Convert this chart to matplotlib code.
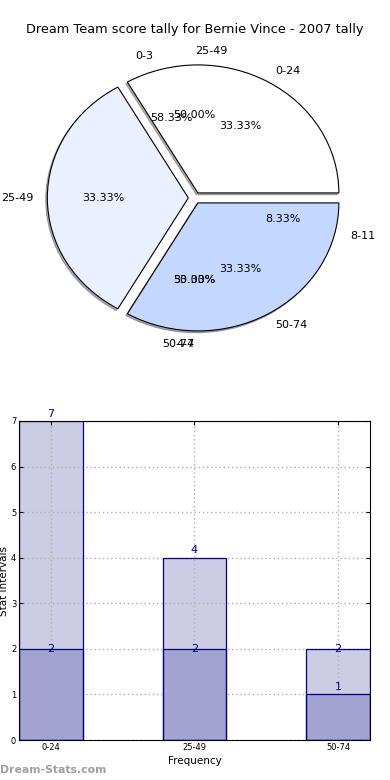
import numpy as np
import matplotlib
matplotlib.use("Agg")
import matplotlib.pyplot as plt

title = "Dream Team score tally for Bernie Vince - 2007 tally"

# main pie (drawn last, on top)
pie_labels = ["0-24", "25-49", "50-74"]
pie_values = [1, 1, 1]
pie_colors = ["#ffffff", "#eaf0ff", "#c4d8ff"]

# leftover pies whose text still shows through
pie2_labels = ["0-3", "4-7", "8-11"]
pie2_values = [7, 4, 1]
pie3_labels = ["25-49", "50-74"]
pie3_values = [1, 1]

# bar chart
categories = ["0-24", "25-49", "50-74"]
totals = [7, 4, 2]
subset = [2, 2, 1]
total_pad = [0.05, 0.05, -0.11]
subset_pad = [-0.11, -0.11, 0.05]


def fix_align(texts):
    # labels sitting straight above/below the centre: old-style alignment
    for txt in texts:
        xx, yy = txt.get_position()
        if abs(xx) < 1e-6:
            txt.set_ha("left" if yy > 0 else "right")


fig = plt.figure(figsize=(3.9, 7.8), dpi=100)
fig.text(0.5, 1 - 30 / 780, title, ha="center", va="center", fontsize=9.3)

ax1 = fig.add_axes([0.0292, 0.5329, 0.94, 0.4267])
tp = {"fontsize": 8}
ex = 0.045
res = ax1.pie(pie3_values, labels=pie3_labels, autopct="%.2f%%", textprops=tp,
              explode=[ex] * len(pie3_values))
for p in res[0]:
    p.set_visible(False)
fix_align(res[1])
res = ax1.pie(pie2_values, labels=pie2_labels, autopct="%.2f%%", textprops=tp,
              explode=[ex] * len(pie2_values))
for p in res[0]:
    p.set_visible(False)
fix_align(res[1])
ax1.pie(pie_values, labels=pie_labels, colors=pie_colors, autopct="%.2f%%",
        explode=[ex] * 3, shadow={"ox": -0.008, "oy": -0.01, "shade": 0.6},
        textprops=tp, wedgeprops={"edgecolor": "black", "linewidth": 0.8})
ax1.set_aspect("auto")
ax1.set_xlim(-1.3, 1.3)
ax1.set_ylim(-1.3, 1.3)
ax1.axis("off")

ax2 = fig.add_axes([19 / 390, 40 / 780, 351 / 390, 319 / 780])
x = np.arange(len(categories))
bw = 0.445
ax2.bar(x, totals, width=bw, color="#ccccE4", linewidth=0, zorder=2)
ax2.bar(x, subset, width=bw, color="#a3a3d0", linewidth=0, zorder=3)
# outlines above the grid
ax2.bar(x, totals, width=bw, fill=False, edgecolor="navy", linewidth=0.9, zorder=6)
ax2.bar(x, subset, width=bw, fill=False, edgecolor="navy", linewidth=0.9, zorder=6)
for i in range(len(categories)):
    ax2.text(x[i], totals[i] + total_pad[i], str(totals[i]), ha="center", va="bottom",
             color="navy", fontsize=8, zorder=7)
    ax2.text(x[i], subset[i] + subset_pad[i], str(subset[i]), ha="center", va="bottom",
             color="navy", fontsize=8, zorder=7)
ax2.set_xlim(-0.2225, 2.2225)
ax2.set_ylim(0, 7)
ax2.set_yticks(range(8))
ax2.set_xticks(x)
ax2.set_xticklabels(categories)
ax2.tick_params(direction="in", labelsize=6, length=3, top=True, right=True, pad=2)
ax2.grid(True, linestyle=(0, (1, 2)), color="#b0b0b0", linewidth=1, zorder=5)
ax2.set_axisbelow(False)
for sp in ax2.spines.values():
    sp.set_zorder(6)
ax2.set_xlabel("Frequency", fontsize=7.5, labelpad=3)
ax2.set_ylabel("Stat Intervals", fontsize=7.5, labelpad=1)

fig.text(0.0, 1 - 770 / 780, "Dream-Stats.com", ha="left", va="center",
         fontsize=7.8, color="#a0a0a0", fontweight="bold")

fig.savefig("out.png", dpi=100)
